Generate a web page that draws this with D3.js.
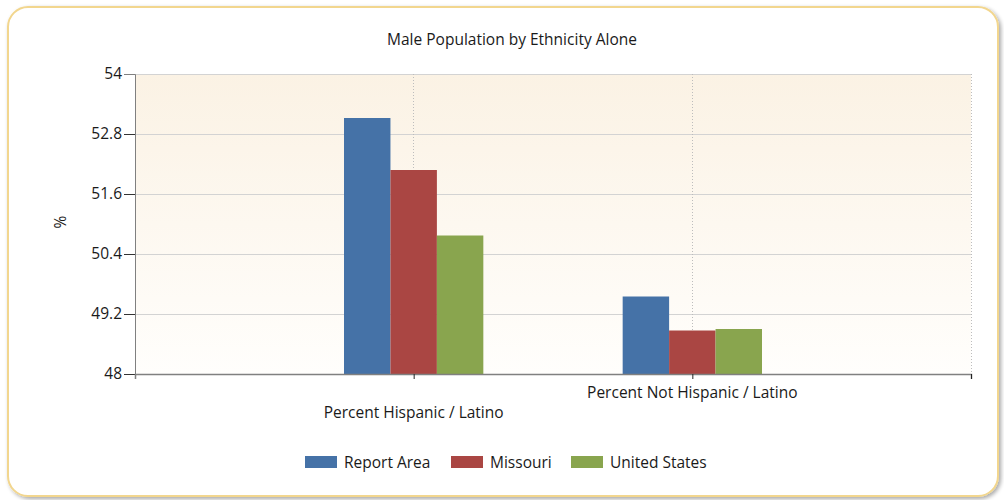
<!DOCTYPE html>
<html><head><meta charset="utf-8">
<script src="https://cdn.jsdelivr.net/npm/d3@7"></script>
<style>
html,body{margin:0;padding:0;background:#fff;}
svg{display:block;}
text{font-family:"Open Sans","Liberation Sans",Arial,sans-serif;fill:#1a1a1a;}
</style></head><body>
<svg id="chart" width="1004" height="500"></svg>
<script>
const title = "Male Population by Ethnicity Alone";
const categories = ["Percent Hispanic / Latino", "Percent Not Hispanic / Latino"];
const seriesNames = ["Report Area", "Missouri", "United States"];
const reportArea = [53.12, 49.55];
const missouri = [52.08, 48.87];
const unitedStates = [50.77, 48.90];
const yTicks = [48, 49.2, 50.4, 51.6, 52.8, 54];
const colors = ["#4572A7", "#AA4643", "#89A54E"];
const series = [reportArea, missouri, unitedStates];

const FS = "15.5px";
const svg = d3.select("#chart");
const defs = svg.append("defs");
const bg = defs.append("linearGradient").attr("id","bg").attr("x1",0).attr("y1",0).attr("x2",0).attr("y2",1);
bg.append("stop").attr("offset","0%").attr("stop-color","#FBF2E4");
bg.append("stop").attr("offset","100%").attr("stop-color","#FFFEFC");
const sh = defs.append("filter").attr("id","sh").attr("x","-5%").attr("y","-5%").attr("width","110%").attr("height","110%");
sh.append("feGaussianBlur").attr("in","SourceAlpha").attr("stdDeviation",2);
sh.append("feOffset").attr("dx",2).attr("dy",2).attr("result","b");
sh.append("feComponentTransfer").append("feFuncA").attr("type","linear").attr("slope",0.35);
const fm = sh.append("feMerge"); fm.append("feMergeNode"); fm.append("feMergeNode").attr("in","SourceGraphic");

// frame
svg.append("rect").attr("x",8).attr("y",7).attr("width",990).attr("height",489)
  .attr("rx",20).attr("ry",20).attr("fill","#fff").attr("stroke","#F2D68E").attr("stroke-width",2).attr("filter","url(#sh)");

const L = 135, R = 971, T = 74, B = 374;
const x = d3.scaleLinear().domain([0, 3]).range([L, R]);
const y = d3.scaleLinear().domain([48, 54]).range([B, T]);
const slot = x(1) - x(0);
const groupW = slot * 0.5;
const bx = d3.scaleBand().domain(d3.range(seriesNames.length)).range([-groupW/2, groupW/2]).padding(0);

svg.append("rect").attr("x",L).attr("y",T).attr("width",R-L).attr("height",B-T).attr("fill","url(#bg)");

// horizontal grid
svg.append("g").selectAll("line").data(yTicks).join("line")
  .attr("x1",L).attr("x2",R).attr("y1",d=>y(d)).attr("y2",d=>y(d))
  .attr("stroke","#D3D3D3").attr("stroke-width",1).attr("shape-rendering","crispEdges");
// vertical dotted grid
svg.append("g").selectAll("line").data([1,2,3]).join("line")
  .attr("x1",d=>x(d)).attr("x2",d=>x(d)).attr("y1",T).attr("y2",B)
  .attr("stroke","#BDBDBD").attr("stroke-dasharray","1,2").attr("shape-rendering","crispEdges");

// bars
const g = svg.append("g");
categories.forEach((c, ci) => {
  series.forEach((s, si) => {
    g.append("rect")
      .attr("x", x(ci+1) + bx(si))
      .attr("y", y(s[ci]))
      .attr("width", bx.bandwidth())
      .attr("height", y(48) - y(s[ci]))
      .attr("fill", colors[si]);
  });
});

// y axis
const yAxis = d3.axisLeft(y).tickValues(yTicks).tickSize(11).tickPadding(2).tickFormat(d=>String(+d.toFixed(1)));
const ya = svg.append("g").attr("transform",`translate(${L},0)`).call(yAxis);
ya.select(".domain").attr("stroke","#808080");
ya.selectAll(".tick line").attr("stroke","#333").filter(d=>d===54).remove();
ya.selectAll(".tick text").style("font-size",FS).attr("fill","#1a1a1a");

// x axis
const xa = svg.append("g").attr("transform",`translate(0,${B})`)
  .call(d3.axisBottom(x).tickValues([1,2,3]).tickSize(5).tickFormat(""));
xa.select(".domain").attr("stroke","#808080").attr("stroke-width",1.5);
xa.selectAll(".tick line").attr("stroke","#222");

// x labels (staggered)
svg.append("g").selectAll("text").data(categories).join("text")
  .attr("x",(d,i)=>x(i+1)).attr("y",(d,i)=> i===0 ? 418 : 398)
  .attr("text-anchor","middle").style("font-size",FS).text(d=>d);

// title
svg.append("text").attr("x",512).attr("y",45).attr("text-anchor","middle").style("font-size",FS).text(title);

// y label
svg.append("text").attr("transform","translate(66,222) rotate(-90)").attr("text-anchor","middle").style("font-size",FS).text("%");

// legend
const legX = [305, 451, 571];
const lg = svg.append("g");
seriesNames.forEach((n,i)=>{
  lg.append("rect").attr("x",legX[i]).attr("y",456).attr("width",32).attr("height",12).attr("fill",colors[i]);
  lg.append("text").attr("x",legX[i]+39).attr("y",468).style("font-size",FS).text(n);
});
</script>
</body></html>
